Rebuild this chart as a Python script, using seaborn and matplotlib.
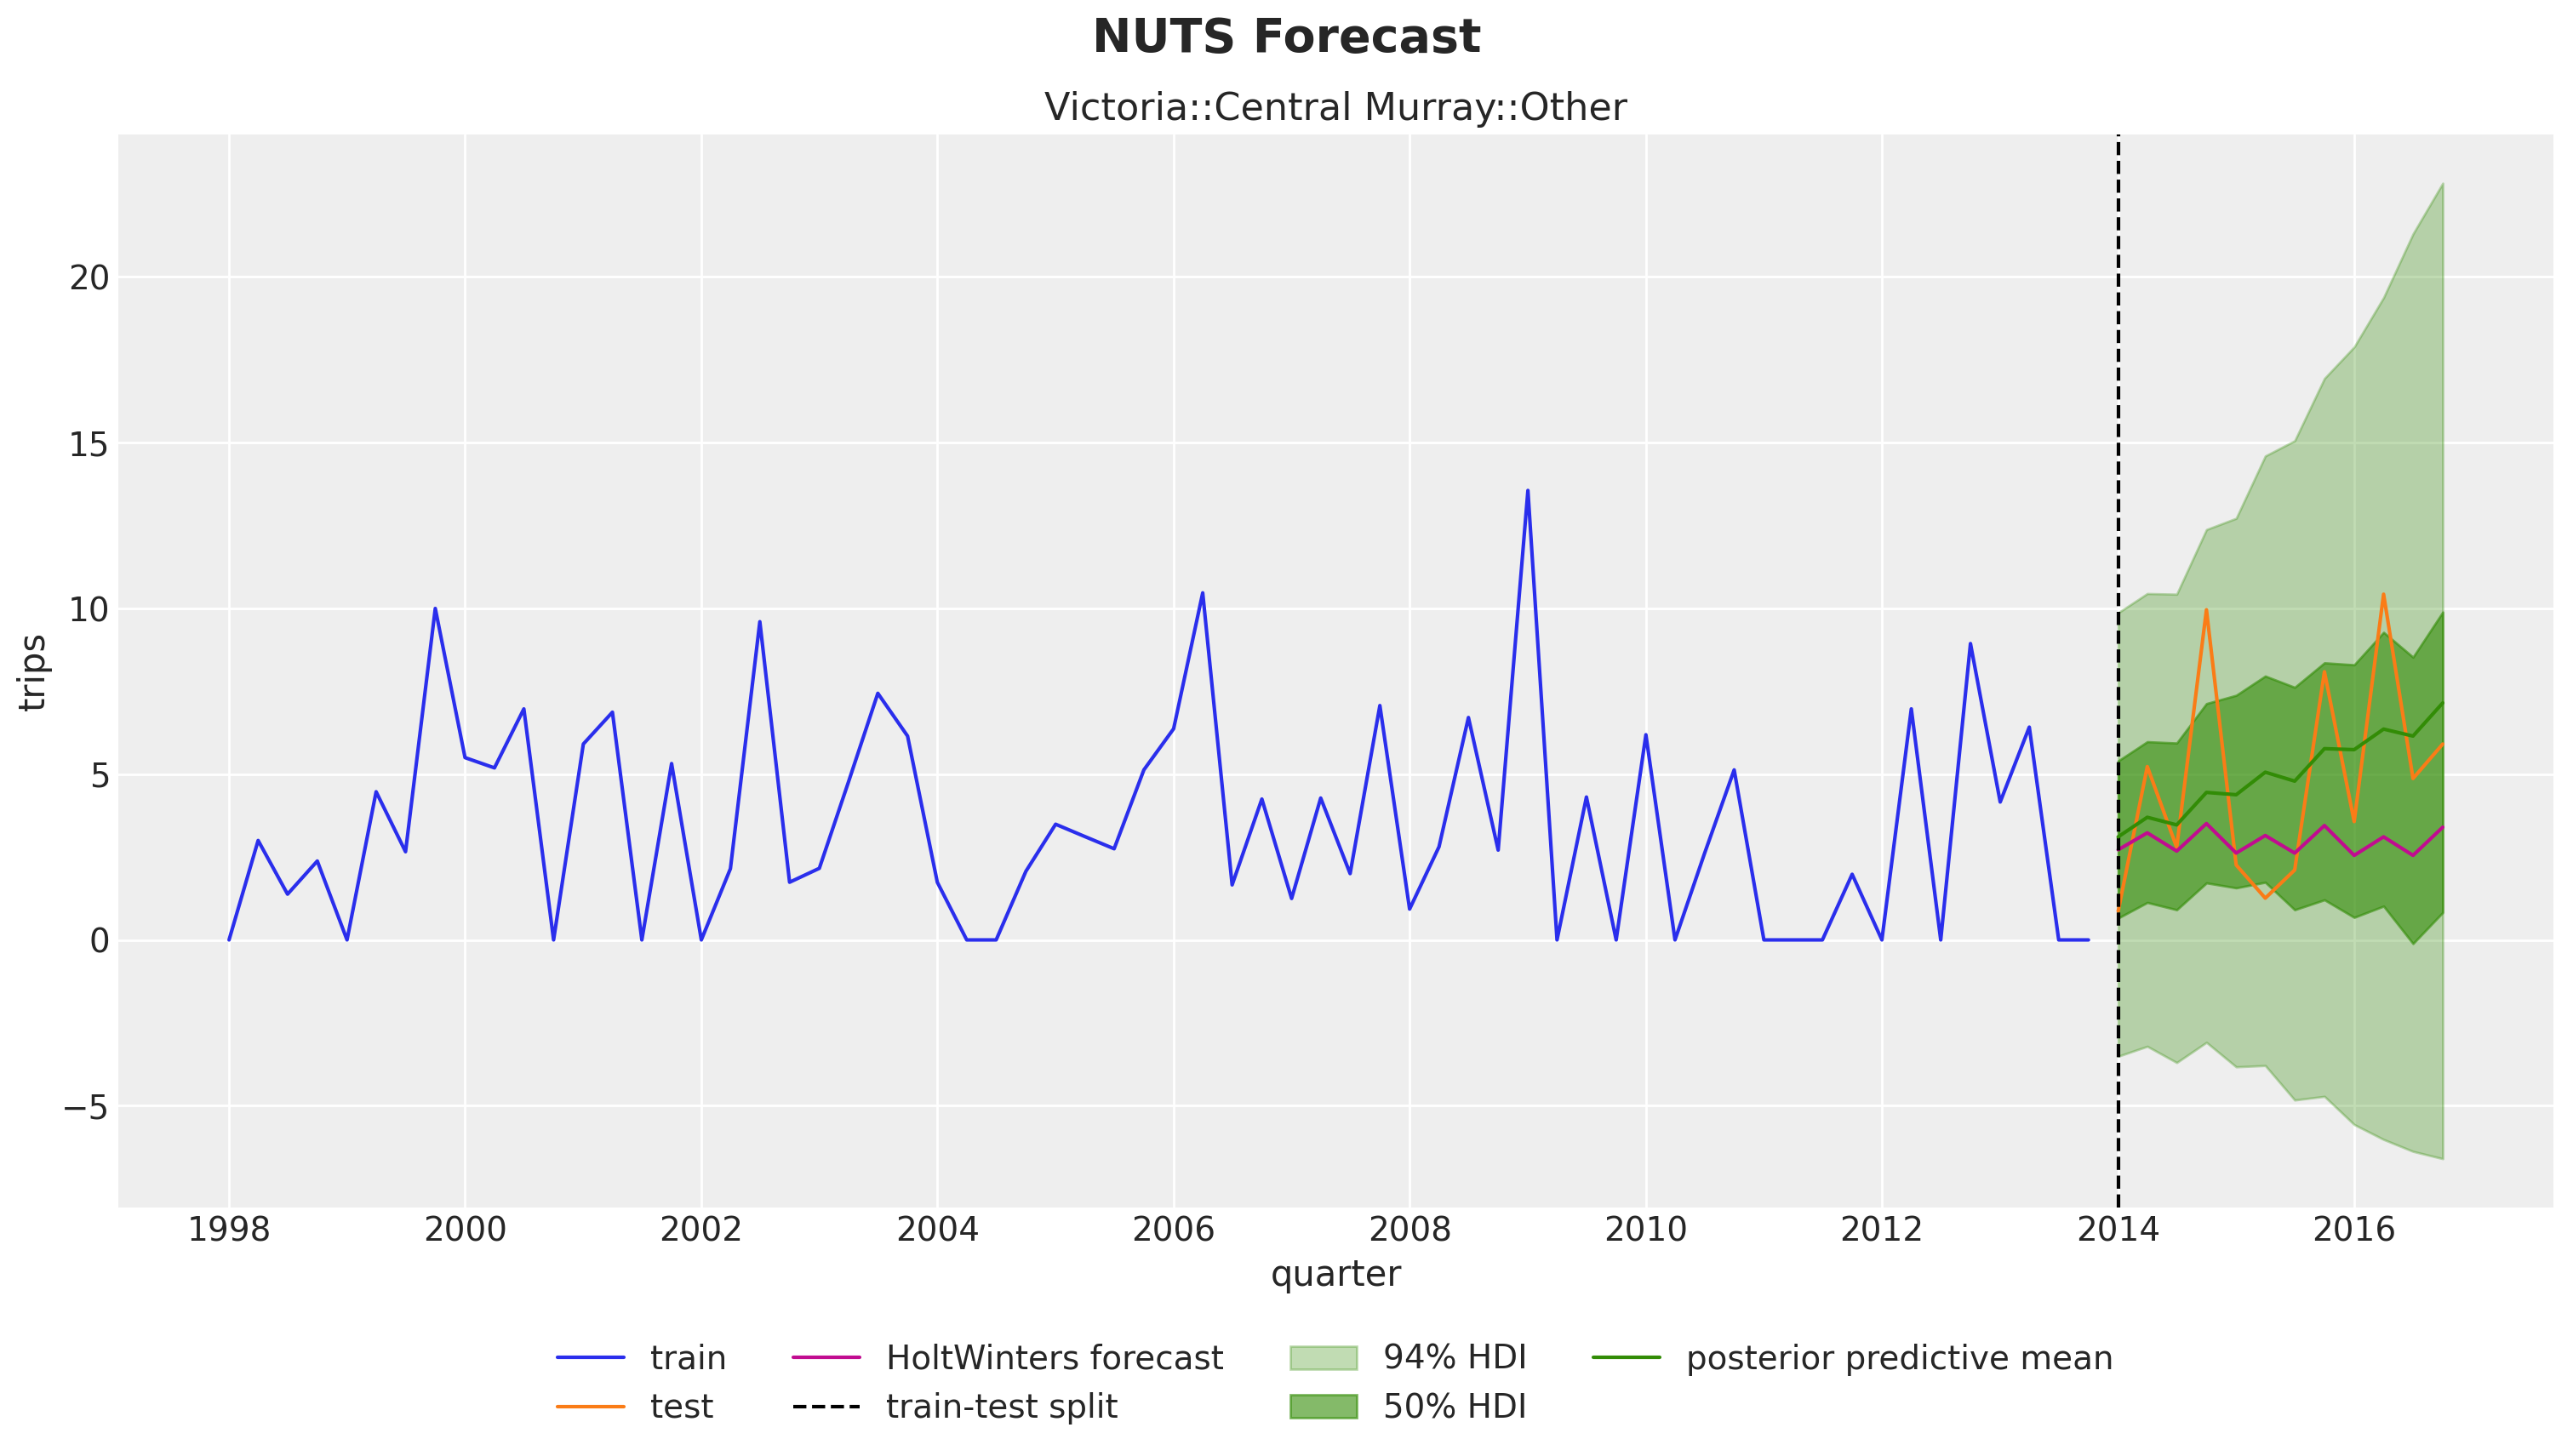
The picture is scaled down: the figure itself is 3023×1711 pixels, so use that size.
import numpy as np
import pandas as pd
import matplotlib
matplotlib.use("Agg")
import matplotlib.pyplot as plt
import matplotlib.dates as mdates
import seaborn as sns

# datos (viajes trimestrales)
train_start = "1998-01-01"
test_start = "2014-01-01"

train_trips = [
    0.0, 3.0, 1.38, 2.38, 0.0, 4.47, 2.66, 10.0,
    5.5, 5.19, 6.97, 0.0, 5.91, 6.87, 0.0, 5.32,
    0.0, 2.15, 9.6, 1.74, 2.16, 4.76, 7.44, 6.15,
    1.74, 0.0, 0.0, 2.07, 3.49, 3.12, 2.75, 5.13,
    6.37, 10.47, 1.66, 4.25, 1.25, 4.28, 2.0, 7.07,
    0.93, 2.81, 6.71, 2.71, 13.56, 0.0, 4.31, 0.0,
    6.19, 0.0, 2.6, 5.13, 0.0, 0.0, 0.0, 1.98,
    0.0, 6.97, 0.0, 8.94, 4.16, 6.42, 0.0, 0.0,
]
test_trips = [0.87, 5.23, 2.79, 9.96, 2.26, 1.26, 2.11, 8.09, 3.57, 10.43, 4.87, 5.91]
holtwinters = [2.72, 3.23, 2.68, 3.51, 2.62, 3.15, 2.62, 3.45, 2.55, 3.11, 2.55, 3.40]
pp_mean = [3.11, 3.70, 3.47, 4.45, 4.38, 5.06, 4.79, 5.77, 5.74, 6.36, 6.15, 7.15]
hdi50_low = [0.66, 1.13, 0.91, 1.72, 1.57, 1.74, 0.91, 1.21, 0.68, 1.02, -0.11, 0.83]
hdi50_high = [5.40, 5.98, 5.94, 7.13, 7.38, 7.96, 7.62, 8.36, 8.30, 9.28, 8.53, 9.89]
hdi94_low = [-3.51, -3.21, -3.70, -3.09, -3.83, -3.79, -4.83, -4.72, -5.57, -6.02, -6.38, -6.60]
hdi94_high = [9.87, 10.45, 10.43, 12.38, 12.72, 14.60, 15.06, 16.94, 17.89, 19.38, 21.30, 22.83]

df_train = pd.DataFrame({
    "quarter": pd.date_range(train_start, periods=len(train_trips), freq="QS"),
    "trips": train_trips,
})
df_test = pd.DataFrame({
    "quarter": pd.date_range(test_start, periods=len(test_trips), freq="QS"),
    "trips": test_trips,
    "hw": holtwinters,
    "mean": pp_mean,
    "lo50": hdi50_low, "hi50": hdi50_high,
    "lo94": hdi94_low, "hi94": hdi94_high,
})

# estilo parecido a arviz-darkgrid
sns.set_theme(style="darkgrid", rc={
    "axes.facecolor": "#eeeeee",
    "grid.color": "white",
    "axes.edgecolor": "white",
    "axes.linewidth": 0,
    "text.color": ".15",
    "axes.labelcolor": ".15",
    "xtick.color": ".15",
    "ytick.color": ".15",
    "xtick.major.size": 0,
    "ytick.major.size": 0,
})
plt.rcParams["font.family"] = ["DejaVu Sans"]

C_BLUE = "#2a2eec"
C_ORANGE = "#fa7c17"
C_GREEN = "#328c06"
C_MAGENTA = "#c10c90"

fig = plt.figure(figsize=(15.115, 8.555), dpi=200)
ax = fig.add_axes([0.046, 0.1707, 0.9464, 0.737])

sns.lineplot(data=df_train, x="quarter", y="trips", color=C_BLUE, lw=1.5, label="train", ax=ax)
sns.lineplot(data=df_test, x="quarter", y="trips", color=C_ORANGE, lw=1.5, label="test", ax=ax)
sns.lineplot(data=df_test, x="quarter", y="hw", color=C_MAGENTA, lw=1.5, label="HoltWinters forecast", ax=ax)
ax.axvline(df_test["quarter"].iloc[0], color="black", ls="--", lw=1.5, label="train-test split")
ax.fill_between(df_test["quarter"], df_test["lo94"], df_test["hi94"], color=C_GREEN, alpha=0.3, label="94% HDI")
ax.fill_between(df_test["quarter"], df_test["lo50"], df_test["hi50"], color=C_GREEN, alpha=0.6, label="50% HDI")
sns.lineplot(data=df_test, x="quarter", y="mean", color=C_GREEN, lw=1.5, label="posterior predictive mean", ax=ax)

ax.xaxis.set_major_locator(mdates.YearLocator(2))
ax.xaxis.set_major_formatter(mdates.DateFormatter("%Y"))
ax.tick_params(labelsize=14)
ax.set_xlabel("quarter", fontsize=15)
ax.set_ylabel("trips", fontsize=15)
ax.set_title("Victoria::Central Murray::Other", fontsize=16)
fig.suptitle("NUTS Forecast", fontsize=20, fontweight="bold", y=0.989)

ax.legend(loc="upper center", bbox_to_anchor=(0.5, -0.099), ncol=4, frameon=False, fontsize=14)

fig.savefig("out.png", dpi=200)
